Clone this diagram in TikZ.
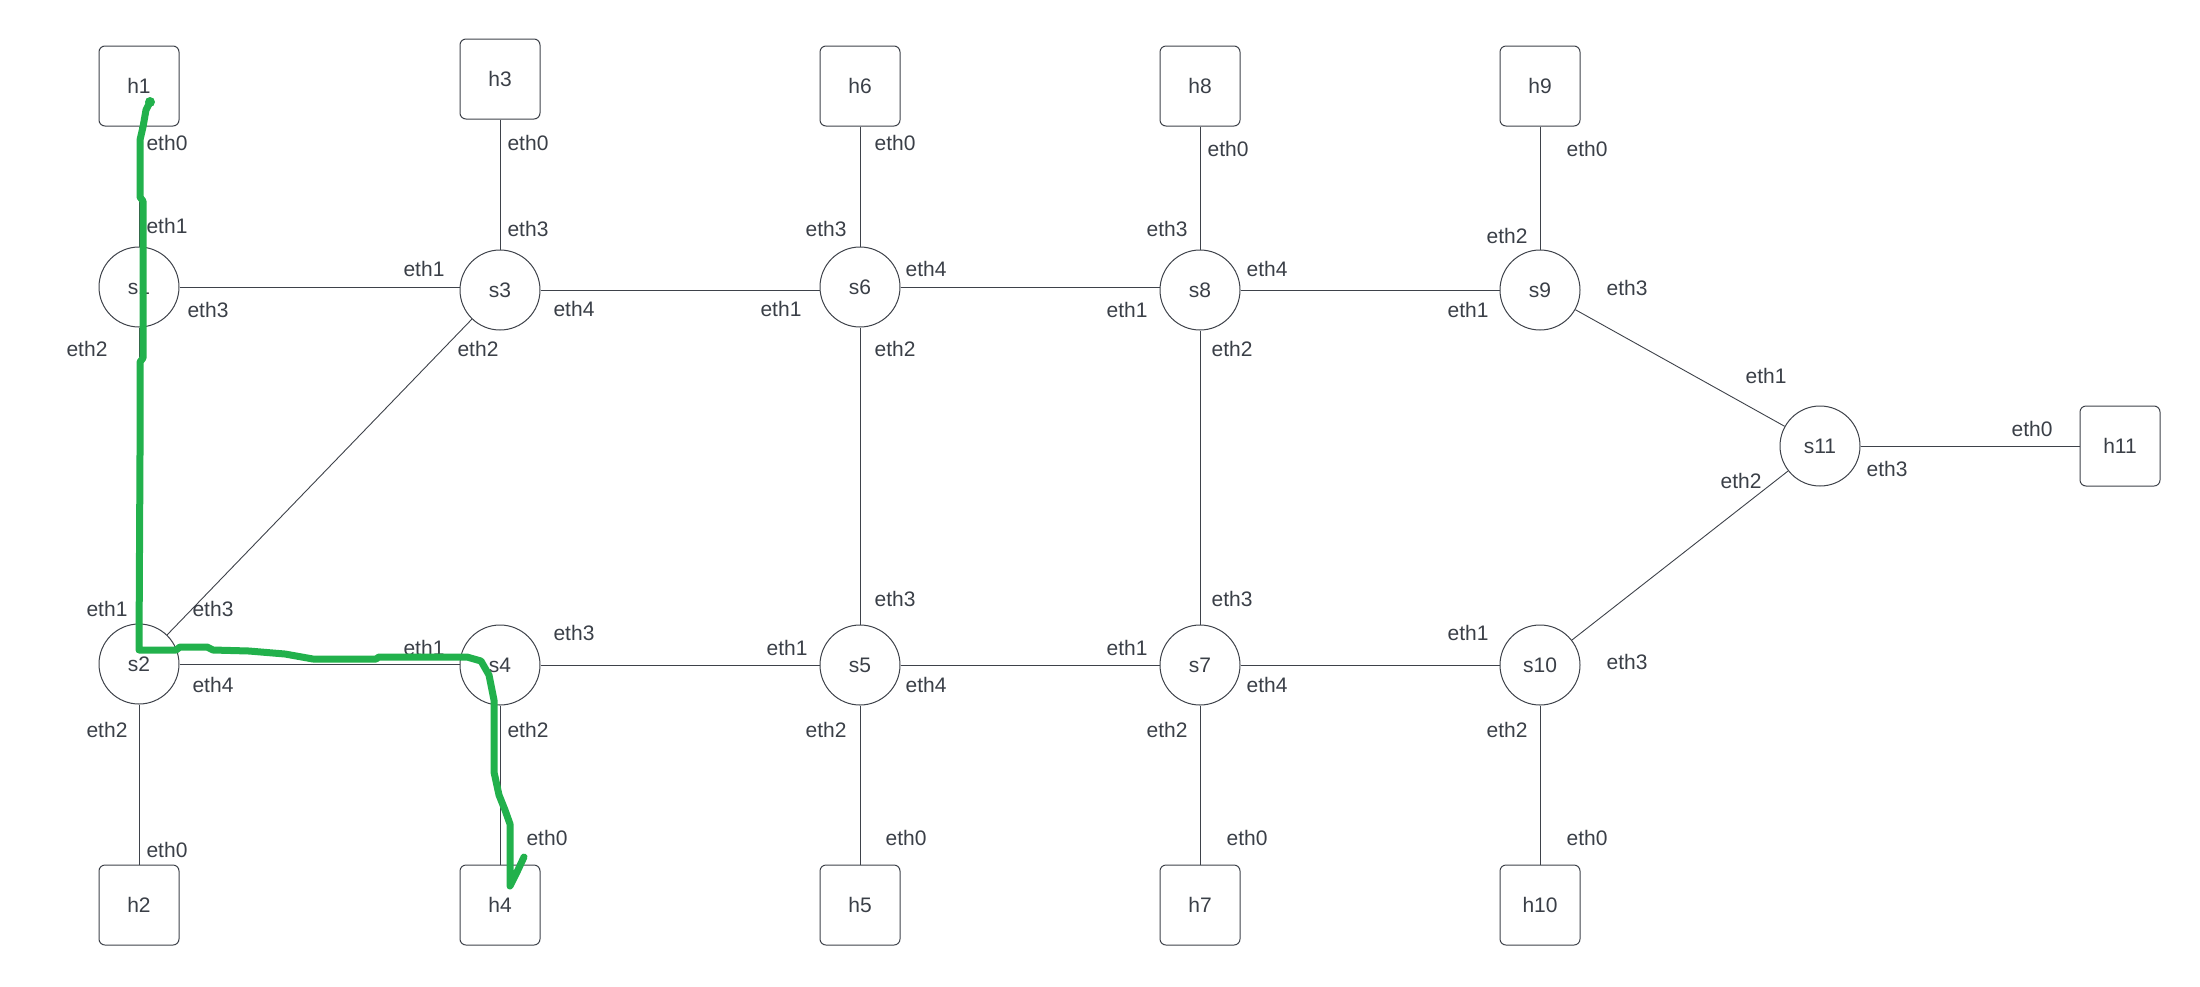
\documentclass[tikz,border=0pt]{standalone}
\usepackage{fontspec}
\setmainfont{Liberation Sans}
\begin{document}
\begin{tikzpicture}[x=1pt,y=-1pt,
  every node/.style={text=txt,font=\fontsize{21}{25}\selectfont},
  host/.style={draw=edge,line width=1pt,rounded corners=6pt,minimum width=80pt,minimum height=80pt,inner sep=0pt},
  switch/.style={draw=edge,line width=1pt,circle,minimum size=80pt,inner sep=0pt},
  port/.style={inner sep=0pt},
  link/.style={draw=edge,line width=0.9pt},
  route/.style={draw=trace,line width=7pt,line cap=round,line join=round}]
\definecolor{txt}{RGB}{58,63,71}
\definecolor{edge}{RGB}{62,66,74}
\definecolor{trace}{RGB}{34,177,76}
\useasboundingbox (0,0) rectangle (2200,986);

% hosts
\node[host] (h1) at (139,86) {h1};
\node[host] (h3) at (500,79) {h3};
\node[host] (h6) at (860,86) {h6};
\node[host] (h8) at (1200,86) {h8};
\node[host] (h9) at (1540,86) {h9};
\node[host] (h11) at (2120,446) {h11};
\node[host] (h2) at (139,905) {h2};
\node[host] (h4) at (500,905) {h4};
\node[host] (h5) at (860,905) {h5};
\node[host] (h7) at (1200,905) {h7};
\node[host] (h10) at (1540,905) {h10};

% switches
\node[switch] (s1) at (139,287) {s1};
\node[switch] (s3) at (500,290) {s3};
\node[switch] (s6) at (860,287) {s6};
\node[switch] (s8) at (1200,290) {s8};
\node[switch] (s9) at (1540,290) {s9};
\node[switch] (s11) at (1820,446) {s11};
\node[switch] (s2) at (139,664) {s2};
\node[switch] (s4) at (500,665) {s4};
\node[switch] (s5) at (860,665) {s5};
\node[switch] (s7) at (1200,665) {s7};
\node[switch] (s10) at (1540,665) {s10};

% links (horizontal ones keep the height of their left end)
\draw[link] (h1) -- (s1);
\draw[link] (s1) -- (s2);
\draw[link] (s1.east) -- (s1.east -| s3.west);
\draw[link] (h3) -- (s3);
\draw[link] (s3) -- (s2);
\draw[link] (s3.east) -- (s3.east -| s6.west);
\draw[link] (h6) -- (s6);
\draw[link] (s6.east) -- (s6.east -| s8.west);
\draw[link] (h8) -- (s8);
\draw[link] (s8.east) -- (s8.east -| s9.west);
\draw[link] (h9) -- (s9);
\draw[link] (s9) -- (s11);
\draw[link] (s11) -- (h11);
\draw[link] (s11) -- (s10);
\draw[link] (s6) -- (s5);
\draw[link] (s8) -- (s7);
\draw[link] (s2.east) -- (s2.east -| s4.west);
\draw[link] (s4) -- (s5);
\draw[link] (s5) -- (s7);
\draw[link] (s7) -- (s10);
\draw[link] (s2) -- (h2);
\draw[link] (s4) -- (h4);
\draw[link] (s5) -- (h5);
\draw[link] (s7) -- (h7);
\draw[link] (s10) -- (h10);

% port labels
\node[port] (p1) at (167,143) {eth0};
\node[port] (p2) at (167,226) {eth1};
\node[port] (p3) at (208,310) {eth3};
\node[port] (p4) at (87,349) {eth2};
\node[port] (p5) at (424,269) {eth1};
\node[port] (p6) at (528,229) {eth3};
\node[port] (p7) at (528,143) {eth0};
\node[port] (p8) at (574,309) {eth4};
\node[port] (p9) at (478,349) {eth2};
\node[port] (p10) at (826,229) {eth3};
\node[port] (p11) at (895,143) {eth0};
\node[port] (p12) at (926,269) {eth4};
\node[port] (p13) at (781,309) {eth1};
\node[port] (p14) at (895,349) {eth2};
\node[port] (p15) at (1167,229) {eth3};
\node[port] (p16) at (1228,149) {eth0};
\node[port] (p17) at (1267,269) {eth4};
\node[port] (p18) at (1127,310) {eth1};
\node[port] (p19) at (1232,349) {eth2};
\node[port] (p20) at (1507,236) {eth2};
\node[port] (p21) at (1587,149) {eth0};
\node[port] (p22) at (1627,288) {eth3};
\node[port] (p23) at (1468,310) {eth1};
\node[port] (p24) at (1766,376) {eth1};
\node[port] (p25) at (1741,481) {eth2};
\node[port] (p26) at (1887,469) {eth3};
\node[port] (p27) at (2032,429) {eth0};
\node[port] (p28) at (107,609) {eth1};
\node[port] (p29) at (213,609) {eth3};
\node[port] (p30) at (213,685) {eth4};
\node[port] (p31) at (107,730) {eth2};
\node[port] (p32) at (167,850) {eth0};
\node[port] (p33) at (424,648) {eth1};
\node[port] (p34) at (574,633) {eth3};
\node[port] (p35) at (528,730) {eth2};
\node[port] (p36) at (547,838) {eth0};
\node[port] (p37) at (895,599) {eth3};
\node[port] (p38) at (787,648) {eth1};
\node[port] (p39) at (926,685) {eth4};
\node[port] (p40) at (826,730) {eth2};
\node[port] (p41) at (906,838) {eth0};
\node[port] (p42) at (1232,599) {eth3};
\node[port] (p43) at (1127,648) {eth1};
\node[port] (p44) at (1267,685) {eth4};
\node[port] (p45) at (1167,730) {eth2};
\node[port] (p46) at (1247,838) {eth0};
\node[port] (p47) at (1468,633) {eth1};
\node[port] (p48) at (1627,662) {eth3};
\node[port] (p49) at (1507,730) {eth2};
\node[port] (p50) at (1587,838) {eth0};

% hand-drawn route h1 -> s1 -> s2 -> s4 -> h4
\coordinate (r0) at (150,102);
\coordinate (r1) at (524,857);
\fill[trace] (r0) circle (5pt);
\draw[route] (r0) -- (146,110) -- (143,127) -- (140,140) -- (140,197) -- (143,201)
  -- (143,358) -- (140,362) -- (140,455) -- (139,650)
  -- (176,650) -- (180,647) -- (207,647) -- (213,650) -- (249,651) -- (285,654)
  -- (313,659) -- (376,659) -- (379,657) -- (467,657) -- (481,661) -- (489,675)
  -- (494,700) -- (494,772) -- (499,795) -- (505,810) -- (510,824) -- (510,886)
  -- (517,872) -- (r1);
\end{tikzpicture}
\end{document}
